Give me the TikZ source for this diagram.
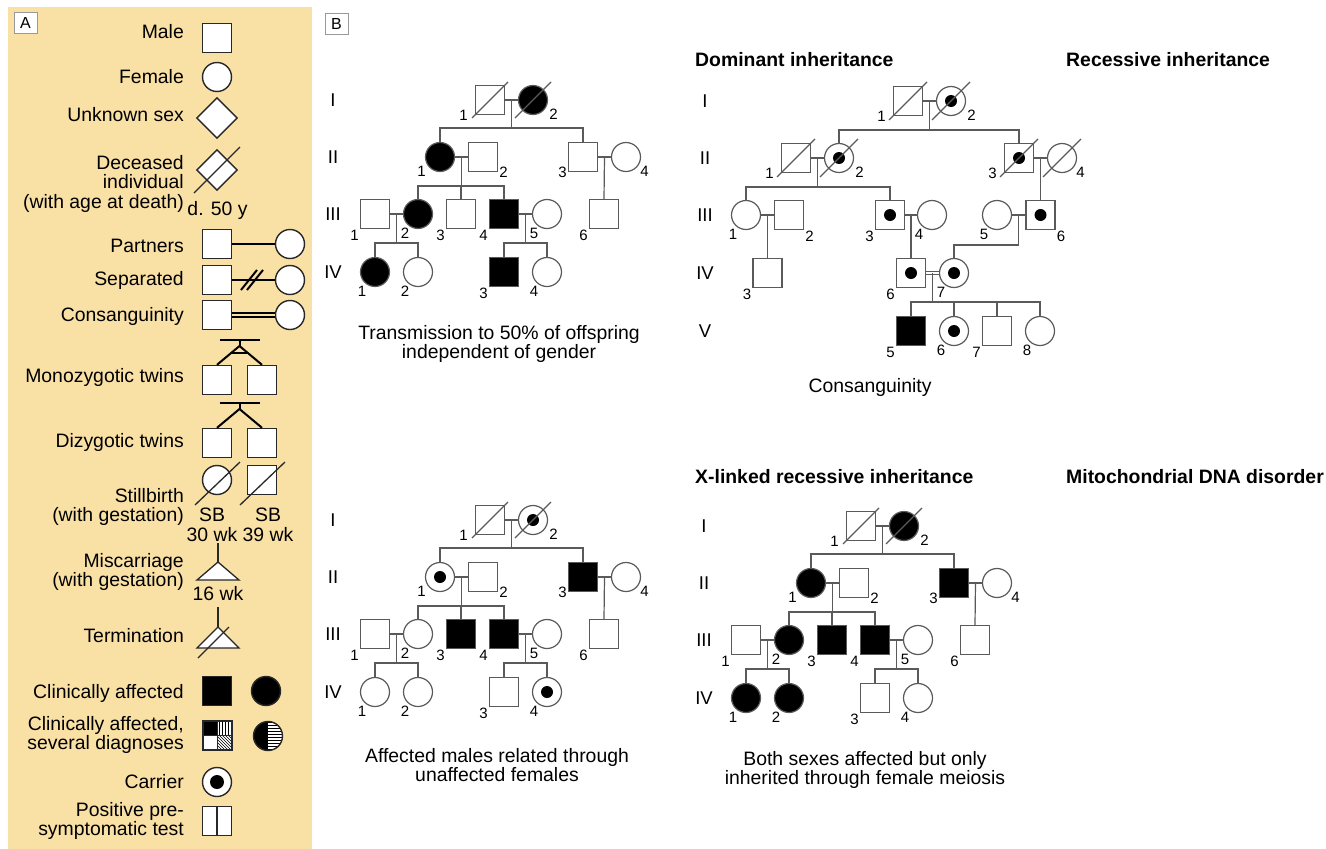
\documentclass[tikz,border=0pt]{standalone}
\usepackage{fontspec}
\setmainfont{Liberation Sans}
\usetikzlibrary{positioning,calc,patterns,shapes.geometric}

\definecolor{panel}{RGB}{249,224,165}
\definecolor{pedgray}{RGB}{90,90,90}
\definecolor{legline}{RGB}{40,40,40}

\newcommand{\legfont}{\fontsize{19.4}{19.5}\selectfont}
\newcommand{\capfont}{\fontsize{19.4}{18}\selectfont}
\newcommand{\numfont}{\fontsize{15}{16}\selectfont}

\tikzset{
  kin/.style={draw=pedgray, line width=1.2pt},
  indiv/.style={draw=pedgray, line width=1.2pt, fill=white, inner sep=0pt, minimum size=29pt},
  num/.style={font=\numfont, inner sep=1pt},
  male/.style={indiv, rectangle,
    nl/.style={label={[num,anchor=north east]-135:##1}},
    nr/.style={label={[num,anchor=north west]-45:##1}},
    sl/.style={label={[num,anchor=east]-135:##1}},
    sr/.style={label={[num,anchor=west]-45:##1}},
    dl/.style={label={[num,anchor=east,xshift=-6pt]-135:##1}}},
  female/.style={indiv, circle,
    nl/.style={label={[num,anchor=north east]-120:##1}},
    sl/.style={label={[num,anchor=north east]-150:##1}},
    sr/.style={label={[num,anchor=north west]-30:##1}},
    dr/.style={label={[num,anchor=north west,xshift=2pt]-30:##1}}},
  aff/.style={fill=black},
  carrier/.style={path picture={\fill[black] (path picture bounding box.center) circle (6pt);}},
  gen/.style={font=\fontsize{18.5}{19}\selectfont, inner sep=0pt},
  captext/.style={font=\capfont, align=center, inner sep=0pt},
  hd/.style={font=\bfseries\legfont, anchor=base west, inner sep=0pt},
  panelTag/.style={draw=gray!80, fill=white, line width=1pt, minimum width=23pt,
    minimum height=21pt, inner sep=0pt, font=\fontsize{16}{16}\selectfont},
  % legend
  ltext/.style={font=\legfont, anchor=base east, inner sep=0pt},
  lblock/.style={font=\legfont, anchor=east, align=right, inner sep=0pt},
  lnote/.style={font=\legfont, align=center, inner sep=0pt},
  legsym/.style={draw=legline, line width=1.4pt, fill=white, inner sep=0pt, minimum size=29pt},
  lsq/.style={legsym, rectangle},
  lci/.style={legsym, circle},
  ldia/.style={legsym, diamond, minimum size=41pt},
  lstroke/.style={draw=legline, line width=1.3pt},
  bond/.style={draw=black, line width=2pt},
  ldot/.style={path picture={\fill[black] (path picture bounding box.center) circle (7pt);}},
  halfsq/.style={path picture={\draw[legline, line width=1.4pt]
      (path picture bounding box.north) -- (path picture bounding box.south);}},
  quads/.style={path picture={
      \fill[black] (path picture bounding box.north west) rectangle (path picture bounding box.center);
      \fill[pattern=vertical lines] (path picture bounding box.north) rectangle (path picture bounding box.east);
      \fill[pattern=north west lines] (path picture bounding box.center) rectangle (path picture bounding box.south east);
      \draw[line width=0.8pt] (path picture bounding box.north) -- (path picture bounding box.south)
        (path picture bounding box.west) -- (path picture bounding box.east);}},
  halves/.style={path picture={
      \fill[black] (path picture bounding box.south west) rectangle (path picture bounding box.north);
      \fill[pattern=horizontal lines] (path picture bounding box.south) rectangle (path picture bounding box.north east);}},
}

% lines of the four-generation family used three times
\newcommand{\fourgen}[1]{%
  \draw[kin] (#1I1) -- (#1I2) (#1II1) -- (#1II2) (#1II3) -- (#1II4)
    (#1III1) -- (#1III2) (#1III4) -- (#1III5);
  \draw[kin] ($(#1I1)!.5!(#1I2)$) -- ++(0,28) coordinate (#1s1);
  \draw[kin] (#1II1.north) |- (#1s1) -| (#1II3.north);
  \draw[kin] ($(#1II1)!.5!(#1II2)$) -- ++(0,29) coordinate (#1s2);
  \draw[kin] (#1III2.north) |- (#1s2) -| (#1III4.north);
  \draw[kin] (#1III3.north) -- (#1III3.north |- #1s2);
  \draw[kin] ($(#1II3)!.5!(#1II4)$) -- (#1III6.north);
  \draw[kin] ($(#1III1)!.5!(#1III2)$) -- ++(0,29) coordinate (#1s3);
  \draw[kin] (#1IV1.north) |- (#1s3) -| (#1IV2.north);
  \draw[kin] ($(#1III4)!.5!(#1III5)$) -- ++(0,29) coordinate (#1s4);
  \draw[kin] (#1IV3.north) |- (#1s4) -| (#1IV4.north);
}

\begin{document}
\begin{tikzpicture}[x=1pt, y=-1pt]
  \path[use as bounding box, fill=white] (0,0) rectangle (1326,849);
  \fill[panel] (8,7) rectangle (312,849);
  \node[panelTag] (tagA) at (25.5,23) {A};
  \node[panelTag] (tagB) at (336.5,24) {B};

  % legend
  \node[ltext] (kMale) at (184,38) {Male};
  \node[lsq] (sMale) at (217,38) {};
  \node[ltext] (kFemale) at (184,83) {Female};
  \node[lci] (sFemale) at (217,77) {};
  \node[ltext] (kUnknown) at (184,121) {Unknown sex};
  \node[ldia] (sUnknown) at (217,118) {};
  \node[lblock] (kDead) at (184,183.5) {Deceased\\individual\\(with age at death)};
  \node[ldia] (sDead) at (217,170) {};
  \draw[lstroke] (sDead.center) ++(-23,23) -- ++(46,-46);
  \node[ltext, anchor=base] (kAge) at (217.5,215) {d. 50 y};

  \node[ltext] (kPartners) at (184,252) {Partners};
  \node[lsq] (sP1) at (217,244) {};
  \node[lci] (sP2) at (290,244) {};
  \draw[bond] (sP1) -- (sP2);

  \node[ltext] (kSep) at (184,285) {Separated};
  \node[lsq] (sS1) at (217,280) {};
  \node[lci] (sS2) at (290,280) {};
  \draw[bond] (sS1) -- (sS2);
  \coordinate (sSmid) at ($(sS1)!.5!(sS2)$);
  \draw[bond] (sSmid) ++(-12.5,10) -- ++(16,-20) (sSmid) ++(-6.5,10) -- ++(16,-20);

  \node[ltext] (kCons) at (184,321) {Consanguinity};
  \node[lsq] (sC1) at (217,315) {};
  \node[lci] (sC2) at (290,315) {};
  \draw[bond, line width=1.3pt, double=panel, double distance=2.5pt] (sC1) -- (sC2);

  \node[ltext] (kMono) at (184,382) {Monozygotic twins};
  \node[lsq] (sM1) at (217,380) {};
  \node[lsq] (sM2) at (262,380) {};
  \coordinate (mzTop) at (239.5,346);
  \draw[bond] (sM1.north) -- (mzTop) -- (sM2.north);
  \draw[bond] (mzTop) -- ++(0,-6) ++(-20,0) -- ++(40,0);
  \draw[bond] ($(mzTop)!.37!(sM1.north)$) -- ($(mzTop)!.37!(sM2.north)$);

  \node[ltext] (kDi) at (184,447) {Dizygotic twins};
  \node[lsq] (sD1) at (217,443) {};
  \node[lsq] (sD2) at (262,443) {};
  \coordinate (dzTop) at (239.5,409);
  \draw[bond] (sD1.north) -- (dzTop) -- (sD2.north);
  \draw[bond] (dzTop) -- ++(0,-6) ++(-20,0) -- ++(40,0);

  \node[lblock] (kStill) at (184,507) {Stillbirth\\(with gestation)};
  \node[lci] (sSB1) at (217,480) {};
  \node[lsq] (sSB2) at (262,480) {};
  \foreach \n in {sSB1,sSB2}
    \draw[lstroke] (\n.center) ++(-22,25) -- ++(45,-43);
  \node[lnote, anchor=north] (kSB1) at (212,508) {SB\\30 wk};
  \node[lnote, anchor=north] (kSB2) at (268,508) {SB\\39 wk};

  \node[lblock] (kMisc) at (184,572) {Miscarriage\\(with gestation)};
  \coordinate (miTop) at (218,562);
  \draw[lstroke] (miTop) -- ++(0,-19);
  \filldraw[lstroke, fill=white] (miTop) -- ++(21,18) -- ++(-42,0) -- cycle;
  \node[ltext, anchor=base] (kMiWk) at (218,600) {16 wk};

  \node[ltext] (kTerm) at (184,642) {Termination};
  \coordinate (teTop) at (218,627);
  \draw[lstroke] (teTop) -- ++(0,-20);
  \filldraw[lstroke, fill=white] (teTop) -- ++(21,21) -- ++(-42,0) -- cycle;
  \draw[lstroke] (teTop) ++(-20,31) -- ++(31,-31);

  \node[ltext] (kAff) at (184,698) {Clinically affected};
  \node[lsq, fill=black] (sAffM) at (217,691) {};
  \node[lci, fill=black] (sAffF) at (266,691) {};

  \node[lblock] (kSev) at (184,735) {Clinically affected,\\several diagnoses};
  \node[lsq, quads] (sSevM) at (217.5,735.5) {};
  \node[lci, halves] (sSevF) at (268,736) {};

  \node[ltext] (kCarrier) at (184,788) {Carrier};
  \node[lci, ldot] (sCarrier) at (217,782) {};

  \node[lblock] (kPos) at (184,821) {Positive pre-\\symptomatic test};
  \node[lsq, halfsq] (sPos) at (217,821) {};

  % headings
  \node[hd] (hDom) at (695,66) {Dominant inheritance};
  \node[hd] (hRec) at (1066,66) {Recessive inheritance};
  \node[hd] (hX) at (695,483) {X-linked recessive inheritance};
  \node[hd] (hMito) at (1066,483) {Mitochondrial DNA disorder};

  % dominant pedigree
  \node[gen] (aG1) at (333,100) {I};
  \node[gen] (aG2) at (333,157) {II};
  \node[gen] (aG3) at (333,214) {III};
  \node[gen] (aG4) at (333,272) {IV};
  \node[male,dl=1] (aI1) at (490,100) {};
  \node[female,aff,dr=2] (aI2) at (533,100) {};
  \node[female,aff,sl=1] (aII1) at (440,157) {};
  \node[male,sr=2] (aII2) at (483,157) {};
  \node[male,sl=3] (aII3) at (583,157) {};
  \node[female,sr=4] (aII4) at (626,157) {};
  \node[male,nl=1] (aIII1) at (375,214) {};
  \node[female,aff,nl=2] (aIII2) at (418,214) {};
  \node[male,nl=3] (aIII3) at (461,214) {};
  \node[male,aff,nl=4] (aIII4) at (504,214) {};
  \node[female,nl=5] (aIII5) at (547,214) {};
  \node[male,nl=6] (aIII6) at (604,214) {};
  \node[female,aff,nl=1] (aIV1) at (375,272) {};
  \node[female,nl=2] (aIV2) at (418,272) {};
  \node[male,aff,nl=3] (aIV3) at (504,272) {};
  \node[female,nl=4] (aIV4) at (547,272) {};
  \fourgen{a}
  \node[captext] (capA) at (499,344) {Transmission to 50\% of offspring\\independent of gender};

  % consanguinity pedigree
  \node[gen] (bG1) at (705,101) {I};
  \node[gen] (bG2) at (705,158) {II};
  \node[gen] (bG3) at (705,215) {III};
  \node[gen] (bG4) at (705,273) {IV};
  \node[gen] (bG5) at (705,331) {V};
  \node[male,dl=1] (bI1) at (908,101) {};
  \node[female,carrier,dr=2] (bI2) at (951,101) {};
  \node[male,dl=1] (bII1) at (796,158) {};
  \node[female,carrier,dr=2] (bII2) at (839,158) {};
  \node[male,carrier,dl=3] (bII3) at (1019,158) {};
  \node[female,sr=4] (bII4) at (1062,158) {};
  \node[female,nl=1] (bIII1) at (746,215) {};
  \node[male,nr=2] (bIII2) at (789,215) {};
  \node[male,carrier,nl=3] (bIII3) at (890,215) {};
  \node[female,nl=4] (bIII4) at (932,215) {};
  \node[female,nl=5] (bIII5) at (997,215) {};
  \node[male,carrier,nr=6] (bIII6) at (1040.5,215) {};
  \node[male,nl=3] (bIV3) at (767.5,273) {};
  \node[male,carrier,nl=6] (bIV6) at (911,273) {};
  \node[female,carrier,nl=7] (bIV7) at (954,273) {};
  \node[male,aff,nl=5] (bV5) at (911,331) {};
  \node[female,carrier,nl=6] (bV6) at (954,331) {};
  \node[male,nl=7] (bV7) at (997,331) {};
  \node[female,nl=8] (bV8) at (1040,331) {};
  \draw[kin] (bI1) -- (bI2) (bII1) -- (bII2) (bII3) -- (bII4)
    (bIII1) -- (bIII2) (bIII3) -- (bIII4) (bIII5) -- (bIII6);
  \draw[kin, line width=1pt, double=white, double distance=2pt] (bIV6) -- (bIV7);
  \draw[kin] ($(bI1)!.5!(bI2)$) -- ++(0,29) coordinate (bs1);
  \draw[kin] (bII2.north) |- (bs1) -| (bII3.north);
  \draw[kin] ($(bII1)!.5!(bII2)$) -- ++(0,29) coordinate (bs2);
  \draw[kin] (bIII1.north) |- (bs2) -| (bIII3.north);
  \draw[kin] ($(bII3)!.5!(bII4)$) -- (bIII6.north);
  \draw[kin] ($(bIII1)!.5!(bIII2)$) -- (bIV3.north);
  \draw[kin] ($(bIII3)!.5!(bIII4)$) -- (bIV6.north);
  \draw[kin] ($(bIII5)!.5!(bIII6)$) -- ++(0,30) -| (bIV7.north);
  \draw[kin] ($(bIV6)!.5!(bIV7)$) -- ++(0,29) coordinate (bs3);
  \draw[kin] (bV5.north) |- (bs3) -| (bV8.north);
  \draw[kin] (bV6.north) -- (bV6.north |- bs3) (bV7.north) -- (bV7.north |- bs3);
  \node[captext, anchor=base] (capB) at (870,392) {Consanguinity};

  % X-linked pedigree
  \begin{scope}[shift={(0,420)}]
    \node[gen] (cG1) at (333,100) {I};
    \node[gen] (cG2) at (333,157) {II};
    \node[gen] (cG3) at (333,214) {III};
    \node[gen] (cG4) at (333,272) {IV};
    \node[male,dl=1] (cI1) at (490,100) {};
    \node[female,carrier,dr=2] (cI2) at (533,100) {};
    \node[female,carrier,sl=1] (cII1) at (440,157) {};
    \node[male,sr=2] (cII2) at (483,157) {};
    \node[male,aff,sl=3] (cII3) at (583,157) {};
    \node[female,sr=4] (cII4) at (626,157) {};
    \node[male,nl=1] (cIII1) at (375,214) {};
    \node[female,nl=2] (cIII2) at (418,214) {};
    \node[male,aff,nl=3] (cIII3) at (461,214) {};
    \node[male,aff,nl=4] (cIII4) at (504,214) {};
    \node[female,nl=5] (cIII5) at (547,214) {};
    \node[male,nl=6] (cIII6) at (604,214) {};
    \node[female,nl=1] (cIV1) at (375,272) {};
    \node[female,nl=2] (cIV2) at (418,272) {};
    \node[male,nl=3] (cIV3) at (504,272) {};
    \node[female,carrier,nl=4] (cIV4) at (547,272) {};
  \end{scope}
  \fourgen{c}
  \node[captext] (capC) at (497,765) {Affected males related through\\unaffected females};

  % mitochondrial pedigree
  \begin{scope}[shift={(371,426)}]
    \node[gen] (dG1) at (333,100) {I};
    \node[gen] (dG2) at (333,157) {II};
    \node[gen] (dG3) at (333,214) {III};
    \node[gen] (dG4) at (333,272) {IV};
    \node[male,dl=1] (dI1) at (490,100) {};
    \node[female,aff,dr=2] (dI2) at (533,100) {};
    \node[female,aff,sl=1] (dII1) at (440,157) {};
    \node[male,sr=2] (dII2) at (483,157) {};
    \node[male,aff,sl=3] (dII3) at (583,157) {};
    \node[female,sr=4] (dII4) at (626,157) {};
    \node[male,nl=1] (dIII1) at (375,214) {};
    \node[female,aff,nl=2] (dIII2) at (418,214) {};
    \node[male,aff,nl=3] (dIII3) at (461,214) {};
    \node[male,aff,nl=4] (dIII4) at (504,214) {};
    \node[female,nl=5] (dIII5) at (547,214) {};
    \node[male,nl=6] (dIII6) at (604,214) {};
    \node[female,aff,nl=1] (dIV1) at (375,272) {};
    \node[female,aff,nl=2] (dIV2) at (418,272) {};
    \node[male,nl=3] (dIV3) at (504,272) {};
    \node[female,nl=4] (dIV4) at (547,272) {};
  \end{scope}
  \fourgen{d}
  \node[captext] (capD) at (865,770) {Both sexes affected but only\\inherited through female meiosis};

  % deceased
  \foreach \n in {aI1,aI2,cI1,cI2,dI1,dI2}
    \draw[kin] (\n.center) ++(-18,18) -- ++(36,-36);
  \foreach \n in {bI1,bI2,bII1,bII2,bII3,bII4}
    \draw[kin] (\n.center) ++(-19,19) -- ++(38,-38);
\end{tikzpicture}
\end{document}
